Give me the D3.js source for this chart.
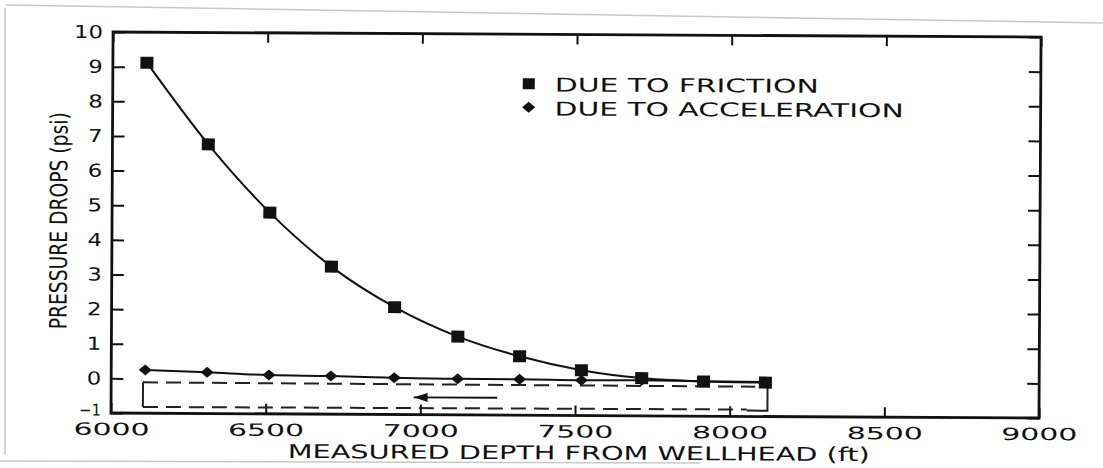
<!DOCTYPE html>
<html>
<head>
<meta charset="utf-8">
<script src="https://cdn.jsdelivr.net/npm/d3@7"></script>
<style>
  html, body { margin: 0; padding: 0; background: #fff; }
  svg { display: block; }
  text { font-family: "DejaVu Sans", sans-serif; fill: #111; }
</style>
</head>
<body>
<div id="chart"></div>
<script>
const W = 1103, H = 468;

// measured depth (ft) of each station
const depth = [6110, 6310, 6510, 6710, 6915, 7120, 7320, 7520, 7715, 7915, 8115];
// pressure drops (psi)
const friction = [9.12, 6.77, 4.81, 3.26, 2.10, 1.26, 0.70, 0.31, 0.09, 0.00, -0.02];
const acceleration = [0.25, 0.19, 0.12, 0.10, 0.06, 0.04, 0.04, 0.02, 0.03, 0.01, 0.00];

const xTicks = [6000, 6500, 7000, 7500, 8000, 8500, 9000];
const yTicks = [-1, 0, 1, 2, 3, 4, 5, 6, 7, 8, 9, 10];
const legendLabels = ["DUE TO FRICTION", "DUE TO ACCELERATION"];

// wellbore sketch (depth, psi)
const wellTop = [[6103, -0.11], [8082, -0.14]];
const wellBottom = [[6103, -0.82], [8055, -0.80]];
const wellLeft = [[6103, -0.11], [6103, -0.82]];
const wellRight = [[8055, -0.83], [8122, -0.83], [8122, -0.02]];
const flowArrow = [[7248, -0.50], [6978, -0.50]];

const mLeft = 111, mRight = 1039, mTop = 32, mBottom = 413;

const x = d3.scaleLinear().domain([6000, 9000]).range([mLeft, mRight]);
const y = d3.scaleLinear().domain([-1, 10]).range([mBottom, mTop]);

const svg = d3.select("#chart").append("svg")
  .attr("width", W).attr("height", H);

// faint scan edges
const edge = svg.append("g").attr("stroke", "#c8c8c8").attr("stroke-width", 1.5).attr("fill", "none");
edge.append("line").attr("x1", 6).attr("y1", 5).attr("x2", 1103).attr("y2", 23);
edge.append("line").attr("x1", 5).attr("y1", 8).attr("x2", 5).attr("y2", 455);
edge.append("line").attr("x1", 0).attr("y1", 461).attr("x2", 700).attr("y2", 463);

// the scanned figure is slightly rotated
const g = svg.append("g").attr("transform", `rotate(0.31, ${mLeft}, ${mBottom})`);

// axes
const yAxis = g.append("g")
  .attr("transform", `translate(${mLeft},0)`)
  .call(d3.axisLeft(y).tickValues(yTicks).tickSize(-12).tickPadding(10).tickFormat(d3.format("d")));
const yAxisR = g.append("g")
  .attr("transform", `translate(${mRight},0)`)
  .call(d3.axisRight(y).tickValues(yTicks).tickSize(-12).tickFormat(""));
const xAxis = g.append("g")
  .attr("transform", `translate(0,${mBottom})`)
  .call(d3.axisBottom(x).tickValues(xTicks).tickSize(-10).tickPadding(10).tickFormat(d3.format("d")));
const xAxisT = g.append("g")
  .attr("transform", `translate(0,${mTop})`)
  .call(d3.axisTop(x).tickValues(xTicks).tickSize(-10).tickFormat(""));

[yAxis, yAxisR, xAxis, xAxisT].forEach(a => {
  a.select(".domain").remove();
  a.selectAll(".tick line").attr("stroke", "#111").attr("stroke-width", 2);
});

yAxis.selectAll(".tick text")
  .attr("font-size", d => d < 0 ? 16 : 18)
  .attr("font-family", "DejaVu Sans")
  .attr("fill", "#111")
  .attr("y", d => d < 0 ? -3 : 0)
  .attr("textLength", d => d < 0 ? 22 : String(d).length * 14.5)
  .attr("lengthAdjust", "spacingAndGlyphs");

xAxis.selectAll(".tick text")
  .attr("font-size", 17)
  .attr("font-family", "DejaVu Sans")
  .attr("fill", "#111")
  .attr("textLength", 76)
  .attr("lengthAdjust", "spacingAndGlyphs");

// frame
g.append("rect")
  .attr("x", mLeft).attr("y", mTop)
  .attr("width", mRight - mLeft).attr("height", mBottom - mTop)
  .attr("fill", "none").attr("stroke", "#111").attr("stroke-width", 2.8);

// wellbore sketch
const lineXY = d3.line().x(d => x(d[0])).y(d => y(d[1]));
g.append("path").attr("d", lineXY(wellTop))
  .attr("fill", "none").attr("stroke", "#222").attr("stroke-width", 2).attr("stroke-dasharray", "15,8");
g.append("path").attr("d", lineXY(wellBottom))
  .attr("fill", "none").attr("stroke", "#222").attr("stroke-width", 2).attr("stroke-dasharray", "15,8");
g.append("path").attr("d", lineXY(wellLeft))
  .attr("fill", "none").attr("stroke", "#222").attr("stroke-width", 2);
g.append("path").attr("d", lineXY(wellRight))
  .attr("fill", "none").attr("stroke", "#222").attr("stroke-width", 2);

// flow direction arrow
g.append("path").attr("d", lineXY(flowArrow))
  .attr("fill", "none").attr("stroke", "#111").attr("stroke-width", 1.8);
const ax = x(flowArrow[1][0]), ay = y(flowArrow[1][1]);
g.append("path")
  .attr("d", d3.line()([[ax, ay], [ax + 14, ay - 4.5], [ax + 14, ay + 4.5]]) + "Z")
  .attr("fill", "#111");

// series
const fricPts = depth.map((d, i) => [d, friction[i]]);
const accPts = depth.map((d, i) => [d, acceleration[i]]);

g.append("path")
  .attr("d", d3.line().x(d => x(d[0])).y(d => y(d[1])).curve(d3.curveMonotoneX)(accPts))
  .attr("fill", "none").attr("stroke", "#111").attr("stroke-width", 2);
g.append("path")
  .attr("d", d3.line().x(d => x(d[0])).y(d => y(d[1])).curve(d3.curveMonotoneX)(fricPts))
  .attr("fill", "none").attr("stroke", "#111").attr("stroke-width", 2);

const diamond = "M0,-5.5 L6.5,0 L0,5.5 L-6.5,0 Z";
g.selectAll(".acc").data(accPts).join("path")
  .attr("class", "acc")
  .attr("transform", d => `translate(${x(d[0])},${y(d[1])})`)
  .attr("d", diamond).attr("fill", "#111");

g.selectAll(".fric").data(fricPts).join("rect")
  .attr("class", "fric")
  .attr("x", d => x(d[0]) - 6.5).attr("y", d => y(d[1]) - 6)
  .attr("width", 13).attr("height", 12)
  .attr("fill", "#111");

// legend
const legend = g.append("g");
legend.append("rect").attr("x", 521).attr("y", 76).attr("width", 12).attr("height", 11).attr("fill", "#111");
legend.append("path").attr("transform", "translate(527,105)").attr("d", diamond).attr("fill", "#111");
legend.append("text").attr("x", 553).attr("y", 89).attr("font-size", 19)
  .attr("textLength", 264).attr("lengthAdjust", "spacingAndGlyphs").text(legendLabels[0]);
legend.append("text").attr("x", 553).attr("y", 113).attr("font-size", 19)
  .attr("textLength", 349).attr("lengthAdjust", "spacingAndGlyphs").text(legendLabels[1]);

// axis titles
g.append("text").attr("x", 288).attr("y", 457).attr("font-size", 19)
  .attr("textLength", 582).attr("lengthAdjust", "spacingAndGlyphs")
  .text("MEASURED DEPTH FROM WELLHEAD (ft)");
g.append("text")
  .attr("transform", "translate(66,221) rotate(-90)")
  .attr("text-anchor", "middle").attr("font-size", 24)
  .attr("textLength", 217).attr("lengthAdjust", "spacingAndGlyphs")
  .text("PRESSURE DROPS (psi)");
</script>
</body>
</html>
